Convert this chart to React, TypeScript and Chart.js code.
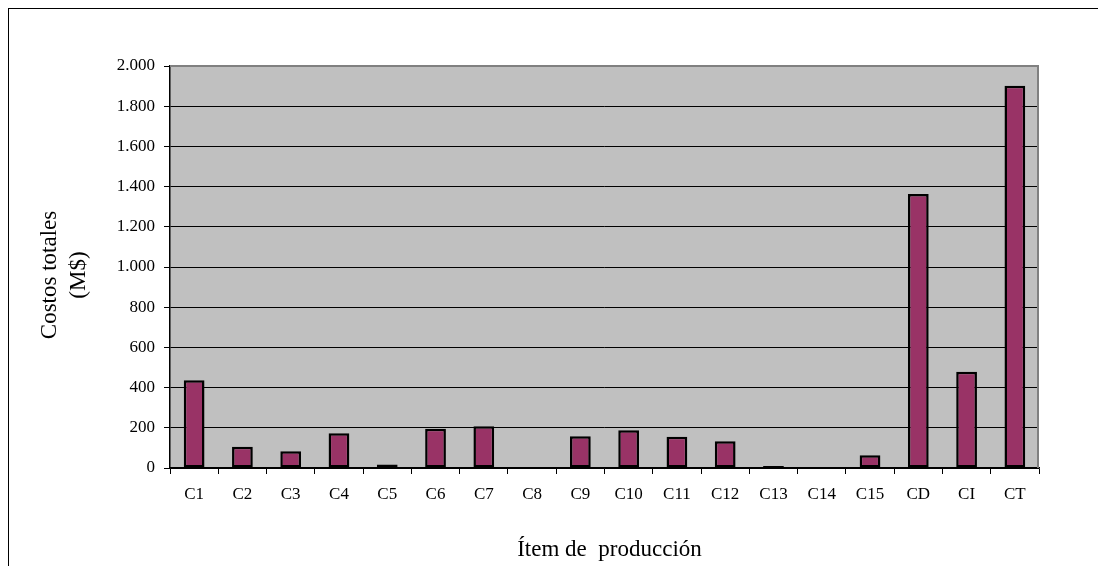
import React, { useEffect, useRef } from "react";
import { Chart, registerables } from "chart.js";

Chart.register(...registerables);

// Production items on the horizontal axis
const categories = [
  "C1", "C2", "C3", "C4", "C5", "C6", "C7", "C8", "C9",
  "C10", "C11", "C12", "C13", "C14", "C15", "CD", "CI", "CT",
];

// Total cost per item, in M$
const totalCosts = [
  436, 106, 83, 173, 18, 195, 208, 0, 158,
  188, 156, 133, 10, 0, 63, 1363, 479, 1902,
];

const yMin = 0;
const yMax = 2000;
const yStep = 200;

const yTitleLines = ["Costos totales", "(M$)"];
const xTitle = "Ítem de  producción";

const FONT = "'Liberation Serif', 'Times New Roman', serif";

const CANVAS_W = 1097;
const CANVAS_H = 565;

const formatThousands = (v: number) =>
  String(Math.round(v)).replace(/\B(?=(\d{3})+(?!\d))/g, ".");

const plotFrame = {
  id: "plotFrame",
  beforeDraw(chart: any) {
    const { ctx, chartArea } = chart;
    const { left, top, right, bottom } = chartArea;
    ctx.save();
    ctx.fillStyle = "#C0C0C0";
    ctx.fillRect(left, top, right - left, bottom - top);
    ctx.restore();
  },
  beforeDatasetsDraw(chart: any) {
    const { ctx, chartArea } = chart;
    const { left, top, right, bottom } = chartArea;
    ctx.save();
    ctx.strokeStyle = "#808080";
    ctx.lineWidth = 2;
    ctx.beginPath();
    ctx.moveTo(left, top);
    ctx.lineTo(right - 1, top);
    ctx.lineTo(right - 1, bottom);
    ctx.stroke();
    ctx.restore();
  },
  afterDraw(chart: any) {
    const { ctx, chartArea } = chart;
    const { left, top, right, bottom } = chartArea;
    ctx.save();
    ctx.fillStyle = "#000";
    ctx.font = `23px ${FONT}`;
    ctx.textAlign = "center";
    ctx.textBaseline = "middle";
    // vertical axis title, two lines
    const cy = (top + bottom) / 2 + 8;
    ctx.save();
    ctx.translate(left - 120, cy);
    ctx.rotate(-Math.PI / 2);
    ctx.fillText(yTitleLines[0], 0, 0);
    ctx.fillText(yTitleLines[1], 0, 29);
    ctx.restore();
    // horizontal axis title
    ctx.fillText(xTitle, (left + right) / 2 + 5, bottom + 82);
    ctx.restore();
  },
};

export default function App() {
  const canvasRef = useRef<HTMLCanvasElement | null>(null);

  useEffect(() => {
    const canvas = canvasRef.current;
    if (!canvas) return;
    const chart = new Chart(canvas, {
      type: "bar",
      data: {
        labels: categories,
        datasets: [
          {
            data: totalCosts,
            backgroundColor: "#993366",
            borderColor: "#000000",
            borderWidth: 2.5,
            borderSkipped: false,
            categoryPercentage: 1,
            barPercentage: 0.43,
          },
        ],
      },
      plugins: [plotFrame],
      options: {
        animation: false,
        responsive: false,
        devicePixelRatio: 1,
        layout: { padding: { left: 0, top: 57, right: CANVAS_W - 1030, bottom: 0 } },
        plugins: {
          legend: { display: false },
          tooltip: { enabled: false },
          title: { display: false },
        },
        scales: {
          x: {
            offset: true,
            afterFit: (scale: any) => {
              scale.height = CANVAS_H - 459;
            },
            grid: {
              offset: true,
              drawOnChartArea: false,
              drawTicks: true,
              tickLength: 6,
              color: "#000",
            },
            border: { display: true, color: "#000", width: 1.5 },
            ticks: {
              color: "#000",
              padding: 10,
              maxRotation: 0,
              autoSkip: false,
              font: { family: FONT, size: 17 },
            },
          },
          y: {
            min: yMin,
            max: yMax,
            afterFit: (scale: any) => {
              scale.width = 161;
            },
            grid: {
              color: (c: any) => (c.tick && c.tick.value === yMax ? "rgba(0,0,0,0)" : "#000"),
              tickColor: "#000",
              tickLength: 6,
              lineWidth: 1,
            },
            border: { display: true, color: "#000", width: 1.5 },
            ticks: {
              stepSize: yStep,
              color: "#000",
              padding: 9,
              font: { family: FONT, size: 17 },
              callback: (v: any) => formatThousands(Number(v)),
            },
          },
        },
      },
    });
    return () => chart.destroy();
  }, []);

  return (
    <div
      style={{
        position: "relative",
        width: CANVAS_W,
        height: CANVAS_H,
        marginBottom: -8,
        borderLeft: "1px solid #000",
        borderTop: "1px solid #000",
        background: "#fff",
        overflow: "hidden",
      }}
    >
      <canvas
        ref={canvasRef}
        width={CANVAS_W}
        height={CANVAS_H}
        style={{ display: "block", width: CANVAS_W, height: CANVAS_H }}
      />
    </div>
  );
}
